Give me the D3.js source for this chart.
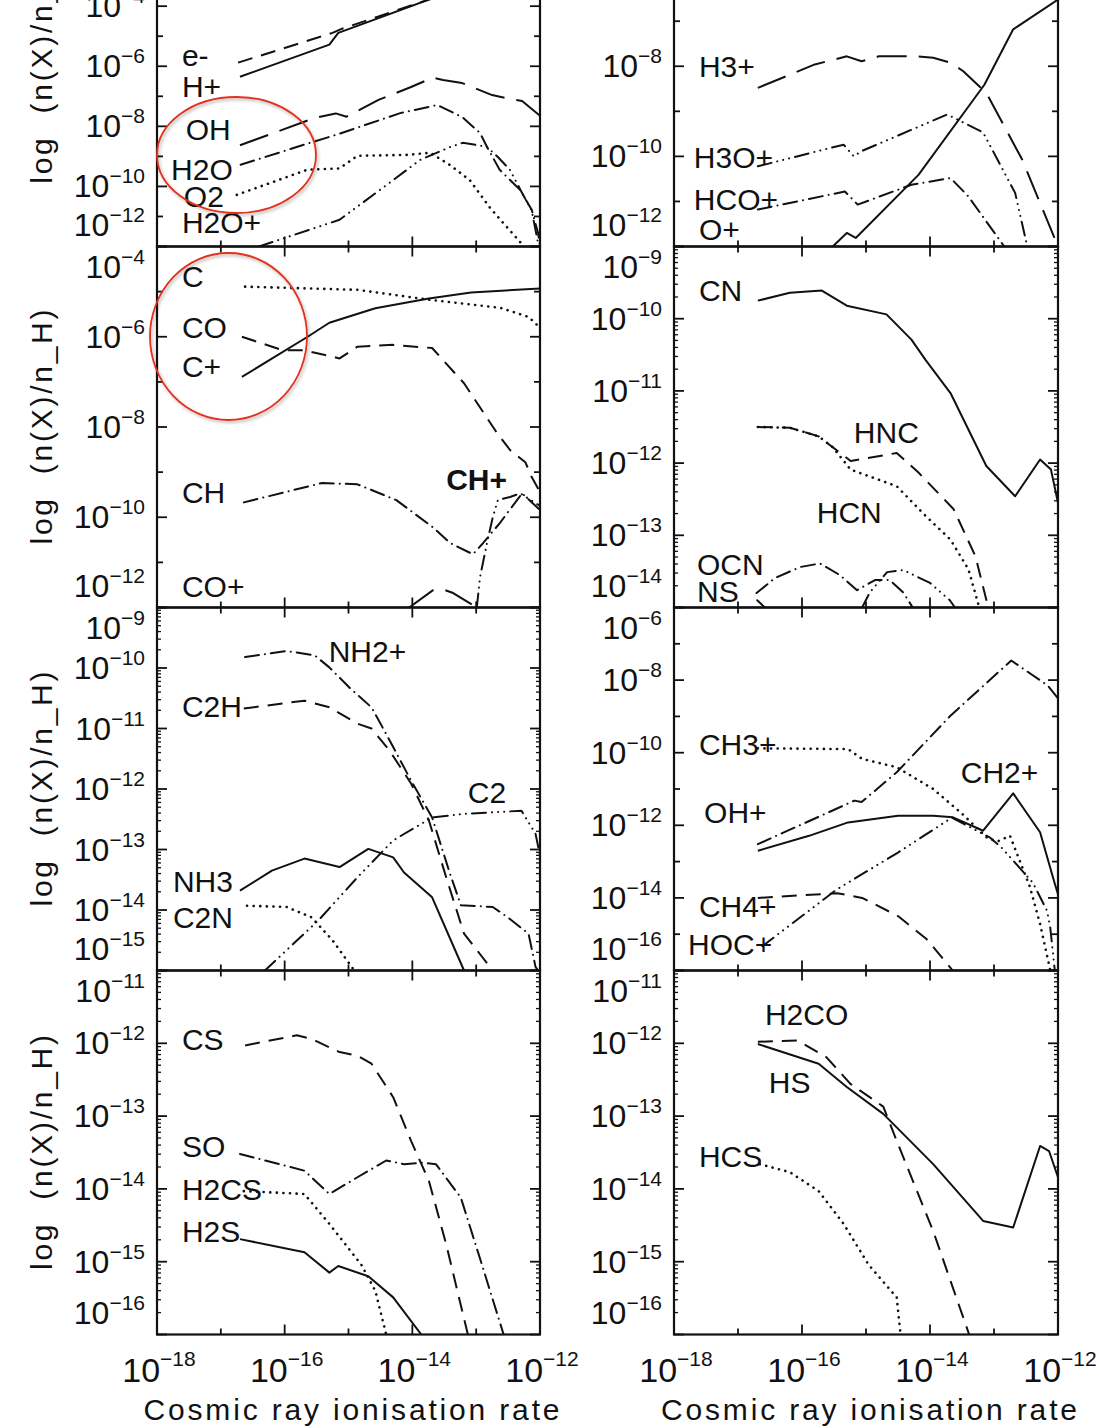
<!DOCTYPE html>
<html>
<head>
<meta charset="utf-8">
<title>Abundances vs cosmic ray ionisation rate</title>
<script src="https://cdn.jsdelivr.net/npm/d3@7"></script>
<style>
  body { margin: 0; background: #fff; }
  #chart svg { display: block; }
  text { font-family: "Liberation Sans", Arial, sans-serif; fill: #111; }
</style>
</head>
<body>
<div id="chart"></div>
<script>
// values, every point is [log10(zeta), log10(n(X)/n_H)]

// top left
const eMinus  = [[-16.73,-5.88],[-15.25,-4.89],[-15.10,-4.75],[-13.70,-3.75]];
const hPlus   = [[-16.70,-6.35],[-15.30,-5.28],[-15.16,-4.89],[-13.70,-3.75]];
const ohMol   = [[-16.70,-8.63],[-15.53,-7.72],[-15.20,-7.57],[-15.03,-7.68],[-14.53,-7.12],[-14.03,-6.70],
                 [-13.68,-6.38],[-13.52,-6.46],[-13.22,-6.56],[-12.75,-6.96],[-12.47,-7.09],[-12.28,-7.16],[-12.00,-7.65]];
const h2o     = [[-16.69,-9.28],[-15.53,-8.50],[-15.19,-8.28],[-14.19,-7.56],[-13.61,-7.29],[-13.22,-7.69],[-12.94,-8.22],
                 [-12.83,-8.69],[-12.63,-9.45],[-12.31,-10.12],[-12.13,-10.78],[-12.03,-11.55],[-12.00,-12.00]];
const o2      = [[-16.75,-10.28],[-15.64,-9.44],[-15.14,-9.40],[-14.86,-8.98],[-14.08,-8.95],[-13.72,-8.88],[-13.41,-9.29],
                 [-13.10,-9.79],[-12.78,-10.72],[-12.52,-11.35],[-12.27,-11.95],[-12.25,-12.00]];
const h2oPlus = [[-16.40,-12.00],[-16.09,-11.78],[-15.14,-11.11],[-14.30,-9.79],[-13.88,-9.12],[-13.41,-8.69],[-13.21,-8.55],
                 [-12.99,-8.62],[-12.83,-8.69],[-12.66,-9.02],[-12.47,-9.45],[-12.31,-10.10],[-12.13,-10.80],[-12.02,-12.00]];

// top right
const h3Plus  = [[-16.69,-8.48],[-15.80,-7.96],[-15.30,-7.78],[-15.07,-7.89],[-14.80,-7.78],[-14.23,-7.78],[-13.95,-7.81],
                 [-13.68,-7.92],[-13.48,-8.11],[-13.12,-8.59],[-12.56,-10.07],[-12.00,-12.00]];
const h3oPlus = [[-16.69,-10.22],[-15.35,-9.74],[-15.19,-10.00],[-15.08,-9.89],[-13.73,-9.07],[-13.17,-9.47],[-12.67,-10.81],[-12.48,-12.00]];
const hcoPlus = [[-16.69,-11.18],[-15.33,-10.78],[-15.13,-11.07],[-14.29,-10.63],[-13.68,-10.48],[-13.40,-10.89],[-12.84,-12.00]];
const oPlus   = [[-15.52,-12.00],[-15.30,-11.70],[-15.16,-11.81],[-14.18,-10.41],[-13.15,-8.41],[-12.70,-7.18],[-12.00,-6.52]];

// second row left
const cAtom   = [[-16.62,-4.89],[-14.86,-4.96],[-13.74,-5.18],[-12.62,-5.36],[-12.18,-5.56],[-12.00,-5.80]];
const cPlus   = [[-16.67,-6.89],[-15.64,-6.00],[-15.30,-5.69],[-14.58,-5.37],[-13.74,-5.15],[-13.08,-5.02],[-12.00,-4.93]];
const coMol   = [[-16.67,-6.00],[-16.03,-6.30],[-15.69,-6.30],[-15.14,-6.48],[-14.86,-6.22],[-14.30,-6.18],[-13.69,-6.25],
                 [-13.19,-7.03],[-12.67,-8.14],[-12.47,-8.51],[-12.23,-8.78],[-12.13,-9.11],[-12.00,-9.44]];
const chMol   = [[-16.64,-9.67],[-15.41,-9.24],[-14.86,-9.27],[-14.25,-9.62],[-13.68,-10.22],[-13.41,-10.57],[-13.05,-10.82],
                 [-12.89,-10.57],[-12.63,-10.13],[-12.36,-9.62],[-12.28,-9.47],[-12.00,-9.84]];
const chPlus  = [[-12.99,-12.00],[-12.94,-11.33],[-12.83,-10.57],[-12.74,-10.00],[-12.66,-9.62],[-12.47,-9.55],[-12.31,-9.47],[-12.00,-9.75]];
const coPlus  = [[-14.05,-12.00],[-13.68,-11.62],[-13.52,-11.60],[-13.36,-11.68],[-12.99,-12.00]];

// second row right
const cnMol   = [[-16.69,-9.75],[-16.19,-9.64],[-15.69,-9.61],[-15.30,-9.82],[-14.68,-9.94],[-14.29,-10.29],[-14.07,-10.57],
                 [-13.68,-11.03],[-13.12,-12.04],[-12.67,-12.46],[-12.28,-11.95],[-12.11,-12.09],[-12.00,-12.55]];
const hncMol  = [[-16.69,-11.50],[-16.19,-11.51],[-15.74,-11.63],[-15.52,-11.78],[-15.24,-11.97],[-14.52,-11.86],[-14.18,-12.13],
                 [-13.63,-12.64],[-13.29,-13.29],[-13.09,-14.00]];
const hcnMol  = [[-16.69,-11.50],[-16.19,-11.51],[-15.74,-11.63],[-15.52,-11.78],[-15.24,-12.09],[-14.52,-12.32],[-14.07,-12.73],
                 [-13.68,-13.06],[-13.40,-13.47],[-13.23,-14.00]];
const ocnMol  = [[-16.71,-13.80],[-16.42,-13.59],[-16.03,-13.44],[-15.72,-13.39],[-15.41,-13.55],[-15.14,-13.76],[-14.86,-13.62],
                 [-14.63,-13.62],[-14.42,-13.79],[-14.27,-14.00]];
const nsMol   = [[-16.70,-13.90],[-16.58,-14.00], null,
                 [-15.06,-14.00],[-14.94,-13.79],[-14.67,-13.51],[-14.42,-13.48],[-14.00,-13.66],[-13.69,-13.90],[-13.61,-14.00]];

// third row left
const nh2Plus = [[-16.62,-9.82],[-15.97,-9.72],[-15.53,-9.79],[-15.30,-9.99],[-14.97,-10.34],[-14.64,-10.65],[-14.41,-11.09],
                 [-14.02,-11.86],[-13.69,-12.47],[-13.41,-13.40],[-13.24,-13.92],[-12.74,-13.95],[-12.52,-14.11],[-12.18,-14.39],
                 [-12.07,-14.94],[-12.03,-15.00]];
const c2h     = [[-16.64,-10.67],[-15.69,-10.54],[-15.30,-10.65],[-14.86,-10.92],[-14.64,-11.00],[-14.36,-11.36],[-14.02,-11.91],
                 [-13.74,-12.52],[-13.47,-13.46],[-13.19,-14.39],[-12.74,-15.00]];
const c2Mol   = [[-16.31,-15.00],[-15.47,-14.17],[-14.86,-13.46],[-14.30,-12.85],[-13.69,-12.47],[-13.19,-12.41],[-12.29,-12.36],
                 [-12.07,-12.74],[-12.00,-13.10]];
const nh3     = [[-16.70,-13.68],[-16.20,-13.35],[-15.69,-13.15],[-15.14,-13.29],[-14.69,-12.99],[-14.30,-13.13],[-14.13,-13.38],
                 [-13.69,-13.79],[-13.19,-15.00]];
const c2n     = [[-16.59,-13.93],[-15.97,-13.95],[-15.58,-14.12],[-15.25,-14.50],[-14.91,-15.00]];

// third row right
const ch3Plus = [[-16.69,-9.88],[-15.28,-9.90],[-15.06,-10.17],[-14.52,-10.40],[-13.95,-11.00],[-13.50,-11.68],[-13.11,-12.34],
                 [-12.95,-12.45],[-12.75,-12.29],[-12.44,-13.69],[-12.28,-14.72],[-12.12,-16.00]];
const ohPlus  = [[-16.69,-12.52],[-15.18,-11.32],[-15.07,-11.36],[-14.52,-10.54],[-13.68,-8.98],[-12.73,-7.46],[-12.16,-8.15],[-12.00,-8.50]];
const ch2Plus = [[-16.69,-12.70],[-15.89,-12.29],[-15.28,-11.92],[-14.50,-11.74],[-13.95,-11.74],[-13.64,-11.78],[-13.17,-12.15],
                 [-12.70,-11.12],[-12.28,-12.19],[-12.05,-13.61],[-12.00,-13.90]];
const ch4Plus = [[-16.69,-14.00],[-15.45,-13.87],[-15.06,-14.00],[-14.50,-14.50],[-14.05,-15.14],[-13.66,-15.97],[-13.64,-16.00]];
const hocPlus = [[-16.62,-15.33],[-15.45,-13.76],[-14.50,-12.75],[-13.66,-11.79],[-13.06,-12.34],[-12.88,-12.62],[-12.52,-13.33],
                 [-12.39,-13.59],[-12.17,-14.36],[-12.12,-14.83],[-12.05,-16.00]];

// bottom left
const csMol   = [[-16.62,-12.03],[-15.81,-11.89],[-15.58,-11.94],[-15.14,-12.12],[-14.86,-12.17],[-14.64,-12.28],[-14.30,-12.74],
                 [-14.02,-13.34],[-13.74,-13.89],[-13.47,-14.76],[-13.13,-16.00]];
const soMol   = [[-16.70,-13.52],[-15.69,-13.75],[-15.30,-14.07],[-14.86,-13.84],[-14.41,-13.61],[-14.13,-13.66],[-13.86,-13.64],
                 [-13.63,-13.66],[-13.24,-14.12],[-12.91,-15.04],[-12.57,-16.00]];
const h2cs    = [[-16.64,-14.03],[-15.69,-14.07],[-15.30,-14.48],[-14.80,-15.04],[-14.58,-15.40],[-14.41,-16.00]];
const h2s     = [[-16.70,-14.69],[-15.69,-14.87],[-15.30,-15.15],[-15.16,-15.06],[-14.69,-15.20],[-14.30,-15.49],[-13.86,-16.00]];

// bottom right
const h2co    = [[-16.69,-11.98],[-16.07,-11.96],[-15.62,-12.19],[-15.24,-12.56],[-14.73,-12.87],[-14.52,-13.34],[-13.95,-14.58],
                 [-13.40,-15.97],[-13.39,-16.00]];
const hsMol   = [[-16.69,-12.01],[-15.74,-12.28],[-15.30,-12.60],[-14.73,-12.97],[-13.95,-13.66],[-13.17,-14.44],[-12.70,-14.53],
                 [-12.28,-13.41],[-12.14,-13.48],[-12.00,-13.84]];
const hcsMol  = [[-16.66,-13.66],[-16.19,-13.77],[-15.74,-14.03],[-15.35,-14.48],[-14.96,-15.04],[-14.52,-15.49],[-14.46,-16.00]];

// axis ticks (powers of ten)
const xRange = [-18, -12];
const xTickLabels = [-18, -16, -14, -12];
const xTitle = "Cosmic ray ionisation rate";
const yTitle = "log  (n(X)/n_H)";

// layout
const width = 1099, height = 1428;
const cols = [{x0: 157, x1: 540}, {x0: 674, x1: 1058}];
const rows = [[-114, 246.5], [246.5, 607.5], [607.5, 970.5], [970.5, 1334.5]];

const dashes = {
  solid: null,
  dotted: "0.1,6.5",
  dashed: "15,9",
  dashdot: "14,6,0.1,6",
  dash3dot: "14,6,0.1,6,0.1,6,0.1,6",
  longdash: "30,12"
};

// panels: curves + where each species name sits (in data coordinates)
const panels = [
  {col: 0, row: 0, yRange: [-12, 0], yLabels: [-12, -10, -8, -6, -4], minor: false, curves: [
    {name: "e-",   data: eMinus,  style: "dashed",   at: [-17.61, -5.99]},
    {name: "H+",   data: hPlus,   style: "solid",    at: [-17.61, -7.02]},
    {name: "OH",   data: ohMol,   style: "longdash", at: [-17.55, -8.45]},
    {name: "H2O",  data: h2o,     style: "dashdot",  at: [-17.78, -9.79]},
    {name: "O2",   data: o2,      style: "dotted",   at: [-17.58, -10.69]},
    {name: "H2O+", data: h2oPlus, style: "dash3dot", at: [-17.61, -11.55]}]},
  {col: 1, row: 0, yRange: [-12, -4], yLabels: [-12, -10, -8, -6, -4], minor: false, curves: [
    {name: "H3+",  data: h3Plus,  style: "longdash", at: [-17.61, -8.24]},
    {name: "H3O+", data: h3oPlus, style: "dash3dot", at: [-17.69, -10.26]},
    {name: "HCO+", data: hcoPlus, style: "dashdot",  at: [-17.69, -11.19]},
    {name: "O+",   data: oPlus,   style: "solid",    at: [-17.61, -11.86]}]},
  {col: 0, row: 1, yRange: [-12, -4], yLabels: [-12, -10, -8, -6, -4], minor: false, curves: [
    {name: "C",    data: cAtom,   style: "dotted",   at: [-17.61, -4.90]},
    {name: "CO",   data: coMol,   style: "dashed",   at: [-17.61, -6.03]},
    {name: "C+",   data: cPlus,   style: "solid",    at: [-17.61, -6.89]},
    {name: "CH",   data: chMol,   style: "dashdot",  at: [-17.61, -9.69]},
    {name: "CH+",  data: chPlus,  style: "dash3dot", at: [-13.47, -9.40], bold: true},
    {name: "CO+",  data: coPlus,  style: "longdash", at: [-17.61, -11.77]}]},
  {col: 1, row: 1, yRange: [-14, -9], yLabels: [-14, -13, -12, -11, -10, -9], minor: true, curves: [
    {name: "CN",   data: cnMol,   style: "solid",    at: [-17.61, -9.76]},
    {name: "HNC",  data: hncMol,  style: "dashed",   at: [-15.19, -11.72]},
    {name: "HCN",  data: hcnMol,  style: "dotted",   at: [-15.77, -12.83]},
    {name: "OCN",  data: ocnMol,  style: "dashdot",  at: [-17.64, -13.55]},
    {name: "NS",   data: nsMol,   style: "dash3dot", at: [-17.64, -13.92]}]},
  {col: 0, row: 2, yRange: [-15, -9], yLabels: [-15, -14, -13, -12, -11, -10, -9], minor: true, curves: [
    {name: "NH2+", data: nh2Plus, style: "dashdot",  at: [-15.31, -9.90]},
    {name: "C2H",  data: c2h,     style: "dashed",   at: [-17.61, -10.81]},
    {name: "C2",   data: c2Mol,   style: "dash3dot", at: [-13.13, -12.23]},
    {name: "NH3",  data: nh3,     style: "solid",    at: [-17.75, -13.70]},
    {name: "C2N",  data: c2n,     style: "dotted",   at: [-17.75, -14.30]}]},
  {col: 1, row: 2, yRange: [-16, -6], yLabels: [-16, -14, -12, -10, -8, -6], minor: false, curves: [
    {name: "CH3+", data: ch3Plus, style: "dotted",   at: [-17.61, -10.06]},
    {name: "CH2+", data: ch2Plus, style: "solid",    at: [-13.52, -10.83]},
    {name: "OH+",  data: ohPlus,  style: "dashdot",  at: [-17.53, -11.94]},
    {name: "CH4+", data: ch4Plus, style: "dashed",   at: [-17.61, -14.53]},
    {name: "HOC+", data: hocPlus, style: "dash3dot", at: [-17.78, -15.57]}]},
  {col: 0, row: 3, yRange: [-16, -11], yLabels: [-16, -15, -14, -13, -12, -11], minor: true, curves: [
    {name: "CS",   data: csMol,   style: "dashed",   at: [-17.61, -12.09]},
    {name: "SO",   data: soMol,   style: "dashdot",  at: [-17.61, -13.56]},
    {name: "H2CS", data: h2cs,    style: "dotted",   at: [-17.61, -14.15]},
    {name: "H2S",  data: h2s,     style: "solid",    at: [-17.61, -14.73]}]},
  {col: 1, row: 3, yRange: [-16, -11], yLabels: [-16, -15, -14, -13, -12, -11], minor: true, curves: [
    {name: "H2CO", data: h2co,    style: "dashed",   at: [-16.58, -11.75]},
    {name: "HS",   data: hsMol,   style: "solid",    at: [-16.52, -12.68]},
    {name: "HCS",  data: hcsMol,  style: "dotted",   at: [-17.61, -13.70]}]}
];

const pow = e => Math.pow(10, e);

const svg = d3.select("#chart").append("svg")
  .attr("width", width)
  .attr("height", height);

const defs = svg.append("defs");
defs.append("filter").attr("id", "shade")
  .attr("x", "-20%").attr("y", "-20%").attr("width", "140%").attr("height", "140%")
  .append("feDropShadow")
  .attr("dx", 1.5).attr("dy", 2).attr("stdDeviation", 1.6)
  .attr("flood-color", "#000").attr("flood-opacity", 0.3);

// superscript tick label: 10^e
function powLabel(sel, e, bigSize, smallSize, lift) {
  sel.append("tspan").attr("font-size", bigSize).text("10");
  sel.append("tspan").attr("font-size", smallSize).attr("dy", -lift).text("\u2212" + Math.abs(e));
}

panels.forEach((p, i) => {
  const {x0, x1} = cols[p.col];
  const [top, bottom] = rows[p.row];

  const x = d3.scaleLog().domain(xRange.map(pow)).range([x0, x1]);
  const y = d3.scaleLog().domain(p.yRange.map(pow)).range([bottom, top]);

  defs.append("clipPath").attr("id", "clip" + i)
    .append("rect")
    .attr("x", x0).attr("y", top)
    .attr("width", x1 - x0).attr("height", bottom - top);

  const g = svg.append("g");

  // curves
  const line = d3.line()
    .defined(d => d !== null)
    .x(d => x(pow(d[0])))
    .y(d => y(pow(d[1])));

  g.append("g")
    .attr("clip-path", `url(#clip${i})`)
    .selectAll("path")
    .data(p.curves)
    .join("path")
      .attr("d", d => line(d.data))
      .attr("fill", "none")
      .attr("stroke", "#111")
      .attr("stroke-width", d => d.style === "dotted" ? 2.6 : 2)
      .attr("stroke-linecap", d => ["dotted", "dashdot", "dash3dot"].includes(d.style) ? "round" : "butt")
      .attr("stroke-linejoin", "round")
      .attr("stroke-dasharray", d => dashes[d.style]);

  // species names
  g.selectAll("text.species")
    .data(p.curves)
    .join("text")
      .attr("class", "species")
      .attr("x", d => x(pow(d.at[0])))
      .attr("y", d => y(pow(d.at[1])))
      .attr("font-size", 30)
      .attr("font-weight", d => d.bold ? "bold" : null)
      .text(d => d.name);

  // ticks, pointing inwards on all four sides
  const ticks = g.append("g").attr("stroke", "#111").attr("stroke-width", 1.8);
  for (let e = xRange[0]; e <= xRange[1]; e++) {
    const len = e % 2 === 0 ? 10 : 6;
    const tx = x(pow(e));
    ticks.append("line").attr("x1", tx).attr("x2", tx).attr("y1", bottom).attr("y2", bottom - len);
    ticks.append("line").attr("x1", tx).attr("x2", tx).attr("y1", top).attr("y2", top + len);
  }
  for (let e = p.yRange[0]; e <= p.yRange[1]; e++) {
    const len = p.yLabels.includes(e) ? 10 : 6;
    const ty = y(pow(e));
    ticks.append("line").attr("x1", x0).attr("x2", x0 + len).attr("y1", ty).attr("y2", ty);
    ticks.append("line").attr("x1", x1).attr("x2", x1 - len).attr("y1", ty).attr("y2", ty);
    if (p.minor && e < p.yRange[1]) {
      for (let m = 2; m <= 9; m++) {
        const my = y(m * pow(e));
        ticks.append("line").attr("x1", x0).attr("x2", x0 + 4).attr("y1", my).attr("y2", my).attr("stroke-width", 1.3);
        ticks.append("line").attr("x1", x1).attr("x2", x1 - 4).attr("y1", my).attr("y2", my).attr("stroke-width", 1.3);
      }
    }
  }

  // frame
  g.append("rect")
    .attr("x", x0).attr("y", top)
    .attr("width", x1 - x0).attr("height", bottom - top)
    .attr("fill", "none")
    .attr("stroke", "#111")
    .attr("stroke-width", 2.2);

  // y tick labels, the ones at the panel edges are pushed inside
  p.yLabels.forEach(e => {
    let ty = y(pow(e));
    if (e === p.yRange[1]) ty += 20;
    if (e === p.yRange[0]) ty -= 22;
    const t = g.append("text")
      .attr("x", x0 - 12)
      .attr("y", ty + 11)
      .attr("text-anchor", "end");
    powLabel(t, e, 32, 21, 14);
  });

  // x tick labels only under the bottom row
  if (p.row === rows.length - 1) {
    xTickLabels.forEach(e => {
      const t = g.append("text")
        .attr("x", x(pow(e)) + 2)
        .attr("y", 1382)
        .attr("text-anchor", "middle");
      powLabel(t, e, 34, 21, 16);
    });
    g.append("text")
      .attr("x", (x0 + x1) / 2 + 3)
      .attr("y", 1420)
      .attr("text-anchor", "middle")
      .attr("font-size", 30)
      .attr("textLength", 416)
      .attr("lengthAdjust", "spacing")
      .text(xTitle);
  }

  // y title on the left column
  if (p.col === 0) {
    g.append("text")
      .attr("transform", `translate(52,${(top + bottom) / 2}) rotate(-90)`)
      .attr("text-anchor", "middle")
      .attr("font-size", 30)
      .attr("textLength", 235)
      .attr("lengthAdjust", "spacing")
      .style("white-space", "pre")
      .text(yTitle);
  }
});

// red annotation rings
const rings = [
  {cx: 236.5, cy: 155, rx: 79.5, ry: 58},
  {cx: 228.5, cy: 336.5, rx: 78.5, ry: 83.5}
];
svg.append("g")
  .selectAll("ellipse")
  .data(rings)
  .join("ellipse")
    .attr("cx", d => d.cx).attr("cy", d => d.cy)
    .attr("rx", d => d.rx).attr("ry", d => d.ry)
    .attr("fill", "none")
    .attr("stroke", "#e3301f")
    .attr("stroke-width", 1.8)
    .attr("filter", "url(#shade)");
</script>
</body>
</html>
